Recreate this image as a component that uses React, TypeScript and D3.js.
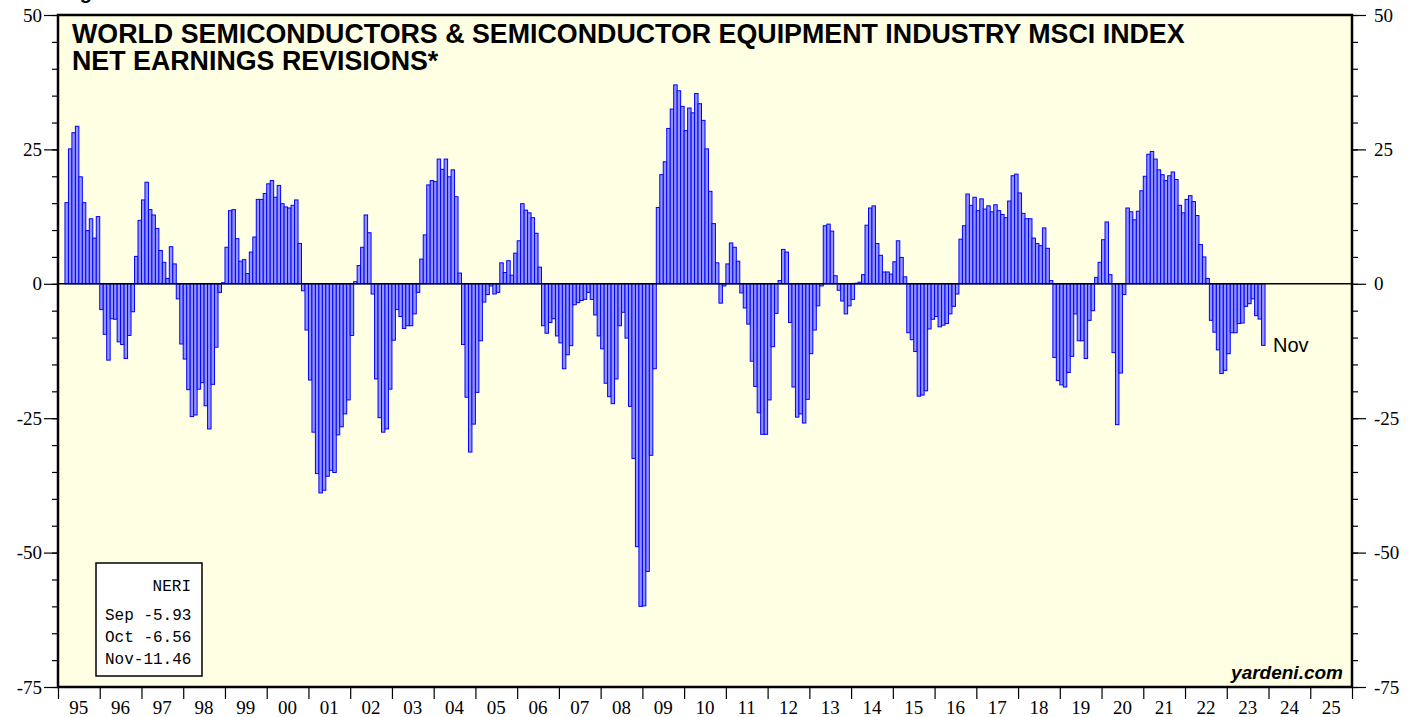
import React, { useRef, useEffect } from 'react';
import * as d3 from 'd3';

// monthly NERI values, first bar = Mar 1995, last bar = Nov 2023
const START_YEAR = 1995;
const START_MONTH = 2;
const neri = [
  15.1, 25.1, 28.1, 29.3, 19.9, 15.1, 9.9, 12.1, 8.5, 12.5,
  -4.8, -9.4, -14.2, -6.5, -6.6, -10.8, -11.3, -13.9, -9.6, -5.2, 5.1, 11.8,
  15.6, 18.9, 13.8, 12.8, 10.3, 6.2, 4.0, 1.0, 6.9, 3.7, -2.8, -11.2,
  -14.0, -19.7, -24.7, -24.4, -19.6, -18.4, -22.7, -27.0, -18.7, -11.8, -1.6, 0.2,
  6.8, 13.6, 13.8, 8.4, 4.2, 4.5, 1.9, 5.9, 8.7, 15.7, 15.7, 16.8,
  18.6, 19.2, 16.1, 18.3, 14.9, 14.3, 14.1, 14.6, 15.6, 7.5, -1.3, -8.6,
  -17.9, -27.6, -35.3, -38.9, -38.4, -35.8, -34.7, -35.1, -28.1, -26.6, -24.2, -21.6,
  -9.6, 0.4, 3.4, 6.8, 12.8, 9.5, -1.9, -17.7, -24.9, -27.6, -27.0, -19.6,
  -10.5, -4.8, -6.1, -8.3, -7.8, -7.8, -5.6, -1.6, 4.6, 9.1, 18.4, 19.2,
  19.0, 23.2, 21.3, 23.2, 19.9, 21.2, 16.2, 2.0, -11.3, -21.1, -31.3, -26.1,
  -20.2, -10.6, -3.4, -2.0, -0.4, -1.9, -1.6, 3.9, 2.1, 4.3, 1.6, 5.7,
  8.0, 14.9, 13.7, 13.2, 12.3, 9.4, 3.1, -7.8, -9.2, -7.2, -6.5, -9.7,
  -11.0, -15.8, -13.2, -11.5, -3.9, -3.5, -3.1, -2.9, -1.6, -2.9, -5.8, -9.7,
  -12.1, -18.5, -21.0, -22.3, -17.7, -7.8, -5.3, -10.1, -22.8, -32.5, -48.9, -60.0,
  -59.9, -53.5, -31.9, -15.8, 14.2, 20.3, 22.7, 28.9, 32.5, 37.0, 35.9, 33.0,
  28.5, 32.7, 31.8, 35.4, 33.5, 30.4, 25.1, 17.2, 11.2, 3.9, -3.6, -0.4,
  3.7, 7.6, 6.8, 4.2, -1.7, -4.5, -7.5, -14.4, -19.1, -24.0, -28.0, -28.0,
  -21.6, -11.7, -5.5, 0.6, 6.4, 5.9, -7.2, -19.2, -24.8, -24.2, -25.9, -21.5,
  -13.0, -8.6, -4.1, -0.4, 10.8, 11.1, 9.8, 1.5, -1.2, -3.2, -5.6, -4.1,
  -2.9, 0.1, 0.3, 1.7, 10.9, 14.1, 14.5, 7.5, 5.3, 2.2, 2.2, 1.8,
  4.1, 8.0, 4.9, 1.3, -9.1, -10.4, -12.6, -20.9, -20.7, -19.9, -8.4, -6.6,
  -6.1, -8.0, -7.7, -7.4, -5.6, -4.2, -1.9, 8.3, 10.8, 16.7, 14.6, 16.1,
  13.6, 15.8, 13.9, 14.5, 13.4, 14.7, 13.6, 12.9, 12.3, 15.4, 20.1, 20.4,
  16.9, 13.1, 12.1, 12.1, 8.5, 7.5, 7.1, 10.4, 6.6, 0.6, -13.7, -18.0,
  -18.8, -19.2, -16.5, -13.5, -5.6, -10.6, -10.6, -13.9, -6.8, -5.0, 1.2, 4.0,
  8.2, 11.5, 1.7, -12.8, -26.2, -16.6, -2.0, 14.1, 13.4, 11.9, 13.5, 17.3,
  20.0, 24.1, 24.6, 23.2, 21.2, 20.3, 19.2, 20.1, 20.8, 19.4, 14.6, 13.2,
  15.7, 16.4, 15.3, 12.7, 7.3, 5.0, 1.0, -6.8, -9.0, -12.3, -16.7, -16.1,
  -13.0, -9.1, -9.1, -7.4, -7.3, -4.2, -3.7, -2.8, -5.93, -6.56, -11.46,
];

const yearLabels = ['95', '96', '97', '98', '99', '00', '01', '02', '03', '04', '05', '06', '07', '08', '09', '10',
  '11', '12', '13', '14', '15', '16', '17', '18', '19', '20', '21', '22', '23', '24', '25'];
const yTicks = [50, 25, 0, -25, -50, -75];
const titleLines = [
  'WORLD SEMICONDUCTORS & SEMICONDUCTOR EQUIPMENT INDUSTRY MSCI INDEX',
  'NET EARNINGS REVISIONS*',
];
const legendTitle = 'NERI';
const legendRows = ['Sep -5.93', 'Oct -6.56', 'Nov-11.46'];

const W = 1419;
const H = 717;
const plot = { left: 58, right: 1352, top: 15, bottom: 687 };

const App = () => {
  const svgRef = useRef(null);

  useEffect(() => {
    const svg = d3.select(svgRef.current);
    svg.selectAll('*').remove();

    const x = d3.scaleLinear().domain([0, yearLabels.length * 12]).range([plot.left, plot.right]);
    const y = d3.scaleLinear().domain([-75, 50]).range([plot.bottom, plot.top]);
    const offset = (START_YEAR - 1995) * 12 + START_MONTH;

    // plot background
    svg.append('rect')
      .attr('x', plot.left).attr('y', plot.top)
      .attr('width', plot.right - plot.left).attr('height', plot.bottom - plot.top)
      .attr('fill', '#ffffe4');

    // bars
    svg.append('g').selectAll('rect')
      .data(neri)
      .enter()
      .append('rect')
      .attr('x', (d, i) => x(offset + i))
      .attr('width', (d, i) => x(offset + i + 1) - x(offset + i))
      .attr('y', d => y(Math.max(0, d)))
      .attr('height', d => Math.abs(y(d) - y(0)))
      .attr('fill', '#9494ff')
      .attr('stroke', '#0000ff')
      .attr('stroke-width', 1);

    // zero line
    svg.append('line')
      .attr('x1', plot.left).attr('x2', plot.right)
      .attr('y1', y(0)).attr('y2', y(0))
      .attr('stroke', '#000').attr('stroke-width', 1.5);

    // title
    svg.append('g').selectAll('text')
      .data(titleLines)
      .enter()
      .append('text')
      .attr('x', 72)
      .attr('y', (d, i) => 43 + i * 27)
      .attr('font-family', 'Liberation Sans, Arial, sans-serif')
      .attr('font-weight', 'bold')
      .attr('font-size', 26.8)
      .text(d => d);

    // cut-off caption above the chart
    svg.append('text')
      .attr('x', 62).attr('y', -1)
      .attr('font-family', 'Liberation Sans, Arial, sans-serif')
      .attr('font-weight', 'bold')
      .attr('font-size', 20)
      .text('Figure');

    // legend box
    const lg = svg.append('g');
    lg.append('rect')
      .attr('x', 96).attr('y', 563).attr('width', 106).attr('height', 113)
      .attr('fill', '#fff').attr('stroke', '#000').attr('stroke-width', 1.5);
    lg.append('text')
      .attr('x', 191).attr('y', 591)
      .attr('text-anchor', 'end')
      .attr('font-family', 'Liberation Mono, Courier New, monospace')
      .attr('font-size', 16)
      .text(legendTitle);
    lg.selectAll('text.row')
      .data(legendRows)
      .enter()
      .append('text')
      .attr('class', 'row')
      .attr('x', 105)
      .attr('y', (d, i) => 620 + i * 22)
      .attr('font-family', 'Liberation Mono, Courier New, monospace')
      .attr('font-size', 16)
      .style('white-space', 'pre')
      .text(d => d);

    // last value label
    svg.append('text')
      .attr('x', x(offset + neri.length) + 8).attr('y', 352)
      .attr('font-family', 'Liberation Sans, Arial, sans-serif')
      .attr('font-size', 20)
      .text('Nov');

    svg.append('text')
      .attr('x', 1343).attr('y', 679)
      .attr('text-anchor', 'end')
      .attr('font-family', 'Liberation Sans, Arial, sans-serif')
      .attr('font-weight', 'bold')
      .attr('font-style', 'italic')
      .attr('font-size', 19)
      .text('yardeni.com');

    // border
    svg.append('rect')
      .attr('x', plot.left).attr('y', plot.top)
      .attr('width', plot.right - plot.left).attr('height', plot.bottom - plot.top)
      .attr('fill', 'none').attr('stroke', '#000').attr('stroke-width', 2.5);

    const minor = d3.range(-75, 51, 5);
    const styleAxis = g => {
      g.select('.domain').remove();
      g.selectAll('line').attr('stroke', '#000').attr('stroke-width', 1.2);
      g.selectAll('text')
        .attr('font-family', 'Liberation Serif, Times New Roman, serif')
        .attr('font-size', 19)
        .attr('fill', '#000');
    };

    // left axis
    svg.append('g').attr('transform', `translate(${plot.left},0)`)
      .call(d3.axisLeft(y).tickValues(minor).tickSize(6).tickFormat(() => ''))
      .call(styleAxis);
    svg.append('g').attr('transform', `translate(${plot.left},0)`)
      .call(d3.axisLeft(y).tickValues(yTicks).tickSize(14).tickPadding(2).tickFormat(d => String(d)))
      .call(styleAxis);

    // right axis
    svg.append('g').attr('transform', `translate(${plot.right},0)`)
      .call(d3.axisRight(y).tickValues(minor).tickSize(6).tickFormat(() => ''))
      .call(styleAxis);
    svg.append('g').attr('transform', `translate(${plot.right},0)`)
      .call(d3.axisRight(y).tickValues(yTicks).tickSize(14).tickPadding(8).tickFormat(d => String(d)))
      .call(styleAxis);

    // bottom axis: year boundaries, labels centred in each year
    svg.append('g').attr('transform', `translate(0,${plot.bottom})`)
      .call(d3.axisBottom(x).tickValues(d3.range(0, yearLabels.length * 12 + 1, 12)).tickSize(12).tickFormat(() => ''))
      .call(styleAxis);
    svg.append('g').selectAll('text')
      .data(yearLabels)
      .enter()
      .append('text')
      .attr('x', (d, i) => x(i * 12 + 6))
      .attr('y', 714)
      .attr('text-anchor', 'middle')
      .attr('font-family', 'Liberation Serif, Times New Roman, serif')
      .attr('font-size', 19)
      .text(d => d);
  }, []);

  return (
    <svg
      ref={svgRef}
      width={W}
      height={H}
      style={{ position: 'absolute', left: 0, top: 0, display: 'block', background: '#fff' }}
    />
  );
};

export default App;
